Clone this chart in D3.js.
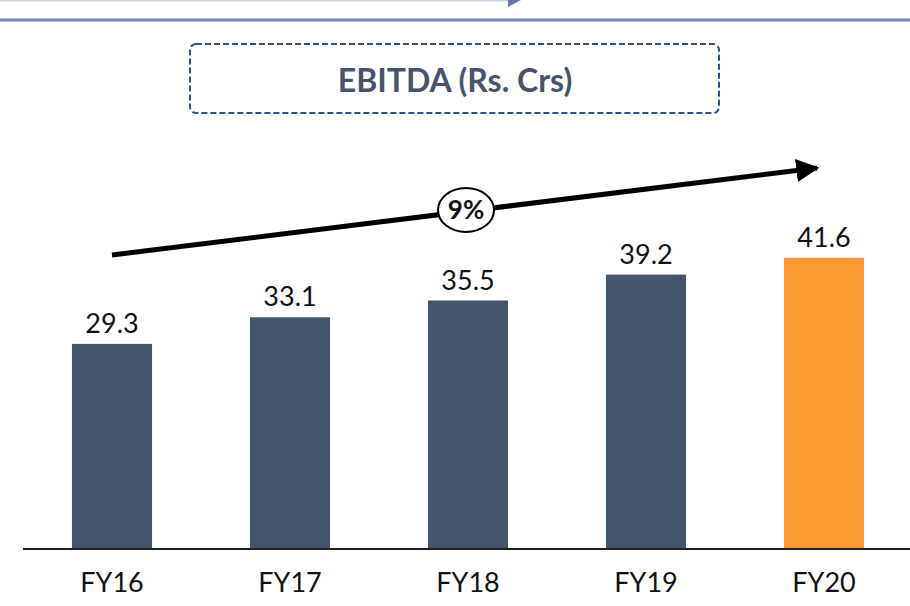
<!DOCTYPE html>
<html>
<head>
<meta charset="utf-8">
<script src="https://cdn.jsdelivr.net/npm/d3@7"></script>
<style>
  body { margin: 0; background: #fff; }
  text { font-family: Lato, "Open Sans", sans-serif; }
</style>
</head>
<body>
<div id="chart"></div>
<script>
const years = ["FY16", "FY17", "FY18", "FY19", "FY20"];
const ebitda = [29.3, 33.1, 35.5, 39.2, 41.6];
const cagrLabel = "9%";
const title = "EBITDA (Rs. Crs)";

const W = 910, H = 606;
const svg = d3.select("#chart").append("svg")
  .attr("width", W).attr("height", H);

// top decoration lines
svg.append("line").attr("x1", 0).attr("x2", 510).attr("y1", 0.5).attr("y2", 0.5)
  .attr("stroke", "#c9cfe3").attr("stroke-width", 2);
svg.append("path").attr("d", "M508,0 L521,0 L508,7 Z").attr("fill", "#5f76b3");
svg.append("line").attr("x1", 0).attr("x2", W).attr("y1", 20).attr("y2", 20)
  .attr("stroke", "#6f86bf").attr("stroke-width", 3);

// title box
svg.append("rect").attr("x", 190).attr("y", 44).attr("width", 529).attr("height", 69)
  .attr("rx", 6).attr("fill", "none")
  .attr("stroke", "#2f4f8a").attr("stroke-width", 2).attr("stroke-dasharray", "6,3");
svg.append("text").attr("x", 455).attr("y", 92).attr("text-anchor", "middle")
  .attr("font-size", 32).attr("font-weight", "bold").attr("fill", "#44546a")
  .text(title);

const x = d3.scaleBand().domain(years).range([23, 913]).paddingInner(0.55).paddingOuter(0.275);
const y = d3.scaleLinear().domain([0, 50]).range([549, 199]);

svg.selectAll("rect.bar").data(years).enter().append("rect")
  .attr("class", "bar")
  .attr("x", d => x(d))
  .attr("width", x.bandwidth())
  .attr("y", (d, i) => y(ebitda[i]))
  .attr("height", (d, i) => y(0) - y(ebitda[i]))
  .attr("fill", (d, i) => i === years.length - 1 ? "#ff9933" : "#44546a");

svg.selectAll("text.val").data(years).enter().append("text")
  .attr("class", "val")
  .attr("x", d => x(d) + x.bandwidth() / 2)
  .attr("y", (d, i) => y(ebitda[i]) - 11)
  .attr("text-anchor", "middle")
  .attr("font-size", 27).attr("fill", "#111")
  .text((d, i) => ebitda[i].toFixed(1));

// axis
const axis = svg.append("g").attr("transform", `translate(0,${y(0)})`)
  .call(d3.axisBottom(x).tickSize(0).tickPadding(24));
axis.select(".domain").attr("d", "M23,0H910").attr("stroke", "#222").attr("stroke-width", 2);
axis.selectAll(".tick text").attr("font-size", 27).attr("fill", "#111")
  .attr("font-family", "Lato, 'Open Sans', sans-serif");

// CAGR arrow
const ax1 = 112, ay1 = 255, ax2 = 825, ay2 = 167;
svg.append("defs").append("marker").attr("id", "ah")
  .attr("viewBox", "0 0 10 10").attr("refX", 9).attr("refY", 5)
  .attr("markerWidth", 4.6).attr("markerHeight", 4.6).attr("orient", "auto")
  .attr("markerUnits", "strokeWidth")
  .append("path").attr("d", "M0,0 L10,5 L0,10 Z").attr("fill", "#000");
svg.append("line").attr("x1", ax1).attr("y1", ay1).attr("x2", ax2 - 8).attr("y2", ay2 + 1)
  .attr("stroke", "#000").attr("stroke-width", 5).attr("marker-end", "url(#ah)");

svg.append("ellipse").attr("cx", 466).attr("cy", 210).attr("rx", 28).attr("ry", 22)
  .attr("fill", "#fff").attr("stroke", "#000").attr("stroke-width", 2);
svg.append("text").attr("x", 466).attr("y", 219).attr("text-anchor", "middle")
  .attr("font-size", 26).attr("font-weight", "bold").attr("fill", "#111")
  .text(cagrLabel);
</script>
</body>
</html>
